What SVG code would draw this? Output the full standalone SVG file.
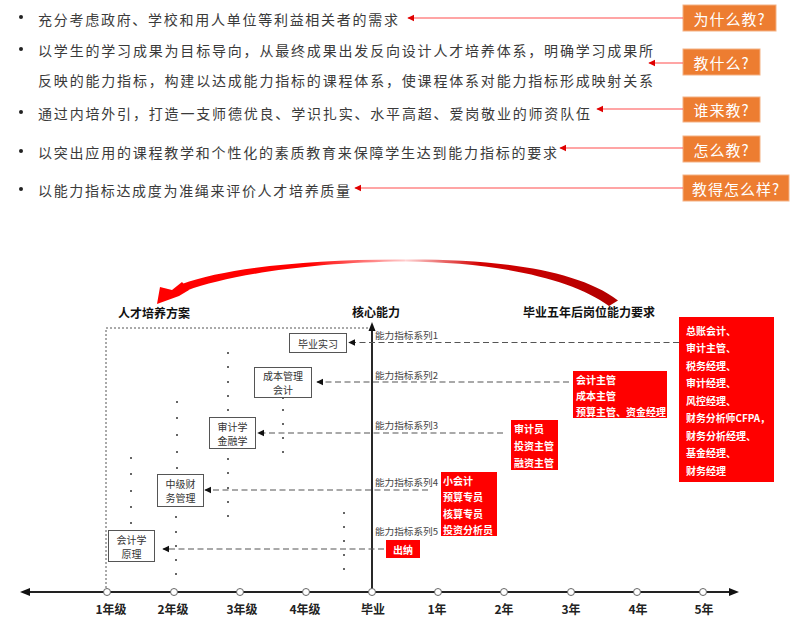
<svg xmlns="http://www.w3.org/2000/svg" width="800" height="631" viewBox="0 0 800 631">
<style>
.bt{font-family:"Noto Sans CJK SC","Liberation Sans",sans-serif;font-size:14px;fill:#3a3a3a;dominant-baseline:central}
.dot{fill:#222}
.ob rect{fill:#ED7D31;stroke:#F4B183;stroke-width:1}
.ob text{font-family:"Noto Sans CJK SC","Liberation Sans",sans-serif;font-size:15px;fill:#fff;text-anchor:middle;dominant-baseline:central;letter-spacing:1px}
.ra{stroke:#FF4D4D;stroke-width:1.2;fill:none}
.hd{font-family:"Noto Sans CJK SC","Liberation Sans",sans-serif;font-size:12px;font-weight:bold;fill:#111;dominant-baseline:central}
.yr{font-family:"Noto Sans CJK SC","Liberation Sans",sans-serif;font-size:12px;font-weight:bold;fill:#222;text-anchor:middle;dominant-baseline:central}
.cb rect{fill:#fff;stroke:#555;stroke-width:1}
.cb text{font-family:"Noto Sans CJK SC","Liberation Sans",sans-serif;font-size:10px;fill:#333;text-anchor:middle;dominant-baseline:central}
.rb rect{fill:#FF0000}
.rb text{font-family:"Noto Sans CJK SC","Liberation Sans",sans-serif;font-size:10px;font-weight:bold;fill:#fff;dominant-baseline:central}
.lb{font-family:"Noto Sans CJK SC","Liberation Sans",sans-serif;font-size:9.5px;fill:#444;dominant-baseline:central}
.dc{stroke:#555;stroke-width:1.2;stroke-dasharray:6 3.5;fill:none}
.cd{fill:#333}
.tick{fill:#fff;stroke:#666;stroke-width:1}
</style>
<defs>
<marker id="ar" viewBox="0 0 10 10" refX="9" refY="5" markerWidth="6" markerHeight="6" orient="auto"><path d="M0,0 L10,5 L0,10 z" fill="#E00000"/></marker>
<marker id="ak" viewBox="0 0 10 10" refX="9" refY="5" markerWidth="6" markerHeight="6" orient="auto"><path d="M0,0 L10,5 L0,10 z" fill="#111"/></marker>
<linearGradient id="gl" gradientUnits="userSpaceOnUse" x1="160" y1="0" x2="410" y2="0">
<stop offset="0" stop-color="#FF0000"/><stop offset="0.6" stop-color="#FF0000"/><stop offset="1" stop-color="#FFD6D6"/>
</linearGradient>
<linearGradient id="gr" gradientUnits="userSpaceOnUse" x1="405" y1="0" x2="620" y2="0">
<stop offset="0" stop-color="#FFD6D6"/><stop offset="0.35" stop-color="#D40000"/><stop offset="1" stop-color="#B00000"/>
</linearGradient>
</defs>

<g id="bullets">
<circle class="dot" cx="21" cy="17" r="2"/>
<circle class="dot" cx="21" cy="49" r="2"/>
<circle class="dot" cx="21" cy="112" r="2"/>
<circle class="dot" cx="21" cy="151" r="2"/>
<circle class="dot" cx="21" cy="189" r="2"/>
<text class="bt" x="38" y="19" textLength="360" lengthAdjust="spacing">充分考虑政府、学校和用人单位等利益相关者的需求</text>
<text class="bt" x="38" y="50" textLength="615" lengthAdjust="spacing">以学生的学习成果为目标导向，从最终成果出发反向设计人才培养体系，明确学习成果所</text>
<text class="bt" x="38" y="80" textLength="615" lengthAdjust="spacing">反映的能力指标，构建以达成能力指标的课程体系，使课程体系对能力指标形成映射关系</text>
<text class="bt" x="38" y="113" textLength="552" lengthAdjust="spacing">通过内培外引，打造一支师德优良、学识扎实、水平高超、爱岗敬业的师资队伍</text>
<text class="bt" x="38" y="152" textLength="519" lengthAdjust="spacing">以突出应用的课程教学和个性化的素质教育来保障学生达到能力指标的要求</text>
<text class="bt" x="38" y="190" textLength="312" lengthAdjust="spacing">以能力指标达成度为准绳来评价人才培养质量</text>
</g>

<g id="q1" class="ob"><rect x="683" y="5" width="93" height="26"/><text x="729.5" y="18.5">为什么教?</text></g>
<g id="q2" class="ob"><rect x="683" y="49" width="77" height="26"/><text x="721.5" y="62">教什么?</text></g>
<g id="q3" class="ob"><rect x="683" y="97" width="77" height="25"/><text x="721.5" y="109.5">谁来教?</text></g>
<g id="q4" class="ob"><rect x="683" y="136" width="77" height="26"/><text x="721.5" y="149">怎么教?</text></g>
<g id="q5" class="ob"><rect x="683" y="175" width="106" height="26"/><text x="736" y="188">教得怎么样?</text></g>

<g id="top-connectors">
<line class="ra" x1="683" y1="18" x2="408" y2="18" marker-end="url(#ar)"/>
<line class="ra" x1="683" y1="63" x2="649" y2="63" marker-end="url(#ar)"/>
<line class="ra" x1="683" y1="109" x2="597" y2="109" marker-end="url(#ar)"/>
<line class="ra" x1="683" y1="148" x2="560" y2="148" marker-end="url(#ar)"/>
<line class="ra" x1="683" y1="188" x2="355" y2="188" marker-end="url(#ar)"/>
</g>

<g id="curve">
<path d="M405,259.5 C490,259 576,268 618,300.5 L609,306 C570,277 490,262 405,261.5 Z" fill="url(#gr)"/>
<path d="M405,259.5 C310,259 226,268 182,284 L187,290.5 C229,275 312,262 405,261.5 Z" fill="url(#gl)"/>
<path d="M157,304 L160,287 L172,290 L182,282 L189,290 L179,296 Z" fill="#FF0000"/>
</g>

<text class="hd" x="118" y="312">人才培养方案</text>
<text class="hd" x="352" y="311">核心能力</text>
<text class="hd" x="523" y="311">毕业五年后岗位能力要求</text>

<g id="frame">
<path d="M106,592 L106,328 L372,328" fill="none" stroke="#555" stroke-width="1" stroke-dasharray="2 2"/>
<line x1="372" y1="592" x2="372" y2="329" stroke="#111" stroke-width="1.8"/>
<polygon points="372,322 368.5,331 375.5,331" fill="#111"/>
<line x1="29" y1="592" x2="730" y2="592" stroke="#222" stroke-width="2"/>
<polygon points="20,592 30,588 30,596" fill="#111"/>
<polygon points="739,592 729,588 729,596" fill="#111"/>
<circle class="tick" cx="107" cy="592" r="3.5"/>
<circle class="tick" cx="174" cy="592" r="3.5"/>
<circle class="tick" cx="240" cy="592" r="3.5"/>
<circle class="tick" cx="306" cy="592" r="3.5"/>
<circle class="tick" cx="372" cy="592" r="3.5"/>
<circle class="tick" cx="438" cy="592" r="3.5"/>
<circle class="tick" cx="504" cy="592" r="3.5"/>
<circle class="tick" cx="571" cy="592" r="3.5"/>
<circle class="tick" cx="637" cy="592" r="3.5"/>
<circle class="tick" cx="703" cy="592" r="3.5"/>
</g>

<g id="years">
<text class="yr" x="111" y="608">1年级</text>
<text class="yr" x="173" y="608">2年级</text>
<text class="yr" x="242" y="608">3年级</text>
<text class="yr" x="305" y="608">4年级</text>
<text class="yr" x="373" y="608">毕业</text>
<text class="yr" x="437" y="608">1年</text>
<text class="yr" x="504" y="608">2年</text>
<text class="yr" x="571" y="608">3年</text>
<text class="yr" x="638" y="608">4年</text>
<text class="yr" x="704" y="608">5年</text>
</g>

<g id="dots">
<circle class="cd" cx="228" cy="353" r="1"/><circle class="cd" cx="228" cy="367" r="1"/><circle class="cd" cx="228" cy="382" r="1"/><circle class="cd" cx="228" cy="396" r="1"/><circle class="cd" cx="228" cy="410" r="1"/>
<circle class="cd" cx="228" cy="459" r="1"/><circle class="cd" cx="228" cy="473" r="1"/><circle class="cd" cx="228" cy="488" r="1"/><circle class="cd" cx="228" cy="502" r="1"/><circle class="cd" cx="228" cy="516" r="1"/>
<circle class="cd" cx="177" cy="402" r="1"/><circle class="cd" cx="177" cy="418" r="1"/><circle class="cd" cx="177" cy="435" r="1"/><circle class="cd" cx="177" cy="452" r="1"/><circle class="cd" cx="177" cy="468" r="1"/>
<circle class="cd" cx="176" cy="517" r="1"/><circle class="cd" cx="176" cy="532" r="1"/><circle class="cd" cx="176" cy="546" r="1"/><circle class="cd" cx="176" cy="560" r="1"/><circle class="cd" cx="176" cy="574" r="1"/>
<circle class="cd" cx="283" cy="398" r="1"/><circle class="cd" cx="283" cy="410" r="1"/><circle class="cd" cx="283" cy="424" r="1"/><circle class="cd" cx="283" cy="438" r="1"/><circle class="cd" cx="283" cy="452" r="1"/>
<circle class="cd" cx="131" cy="458" r="1"/><circle class="cd" cx="131" cy="474" r="1"/><circle class="cd" cx="131" cy="491" r="1"/><circle class="cd" cx="131" cy="507" r="1"/><circle class="cd" cx="131" cy="523" r="1"/>
<circle class="cd" cx="344" cy="513" r="1"/><circle class="cd" cx="344" cy="527" r="1"/><circle class="cd" cx="344" cy="541" r="1"/><circle class="cd" cx="344" cy="555" r="1"/><circle class="cd" cx="344" cy="569" r="1"/>
</g>

<g id="c1" class="cb"><rect x="289.5" y="333.5" width="57" height="19"/><text x="318" y="343">毕业实习</text></g>
<g id="c2" class="cb"><rect x="254.5" y="367.5" width="57" height="30"/><text x="283" y="375.5">成本管理</text><text x="283" y="389.5">会计</text></g>
<g id="c3" class="cb"><rect x="209.5" y="417.5" width="46" height="31"/><text x="232.5" y="426">审计学</text><text x="232.5" y="440">金融学</text></g>
<g id="c4" class="cb"><rect x="157.5" y="474.5" width="46" height="32"/><text x="180.5" y="483">中级财</text><text x="180.5" y="497">务管理</text></g>
<g id="c5" class="cb"><rect x="108.5" y="530.5" width="46" height="31"/><text x="131.5" y="539">会计学</text><text x="131.5" y="553">原理</text></g>

<g id="labels">
<text class="lb" x="375" y="335" textLength="63" lengthAdjust="spacingAndGlyphs">能力指标系列1</text>
<text class="lb" x="375" y="375" textLength="63" lengthAdjust="spacingAndGlyphs">能力指标系列2</text>
<text class="lb" x="375" y="425" textLength="63" lengthAdjust="spacingAndGlyphs">能力指标系列3</text>
<text class="lb" x="375" y="482" textLength="63" lengthAdjust="spacingAndGlyphs">能力指标系列4</text>
<text class="lb" x="375" y="531" textLength="63" lengthAdjust="spacingAndGlyphs">能力指标系列5</text>
</g>

<g id="j5" class="rb"><rect x="679" y="317" width="95" height="165"/>
<text x="686" y="330">总账会计、</text>
<text x="686" y="347.5">审计主管、</text>
<text x="686" y="365">税务经理、</text>
<text x="686" y="382.5">审计经理、</text>
<text x="686" y="400">风控经理、</text>
<text x="686" y="417.5" textLength="84" lengthAdjust="spacingAndGlyphs">财务分析师CFPA，</text>
<text x="686" y="435">财务分析经理、</text>
<text x="686" y="452.5">基金经理、</text>
<text x="686" y="470">财务经理</text>
</g>
<g id="j4" class="rb"><rect x="573" y="371" width="94" height="47"/>
<text x="576" y="379">会计主管</text>
<text x="576" y="395">成本主管</text>
<text x="576" y="411">预算主管、资金经理</text>
</g>
<g id="j3" class="rb"><rect x="511" y="420" width="47" height="50"/>
<text x="514" y="428">审计员</text>
<text x="514" y="445">投资主管</text>
<text x="514" y="462">融资主管</text>
</g>
<g id="j2" class="rb"><rect x="441" y="472" width="56" height="64"/>
<text x="443" y="480">小会计</text>
<text x="443" y="496.5">预算专员</text>
<text x="443" y="513">核算专员</text>
<text x="443" y="529">投资分析员</text>
</g>
<g id="j1" class="rb"><rect x="386" y="540" width="34" height="18"/>
<text x="403" y="549" style="text-anchor:middle">出纳</text>
</g>

<g id="connectors">
<line class="dc" x1="679" y1="342.5" x2="349" y2="342.5" marker-end="url(#ak)"/>
<line class="dc" x1="569" y1="382" x2="317" y2="382" marker-end="url(#ak)"/>
<line class="dc" x1="503" y1="433" x2="258" y2="433" marker-end="url(#ak)"/>
<line class="dc" x1="428" y1="490" x2="205" y2="490" marker-end="url(#ak)"/>
<line class="dc" x1="384" y1="549" x2="163" y2="549" marker-end="url(#ak)"/>
</g>
</svg>
